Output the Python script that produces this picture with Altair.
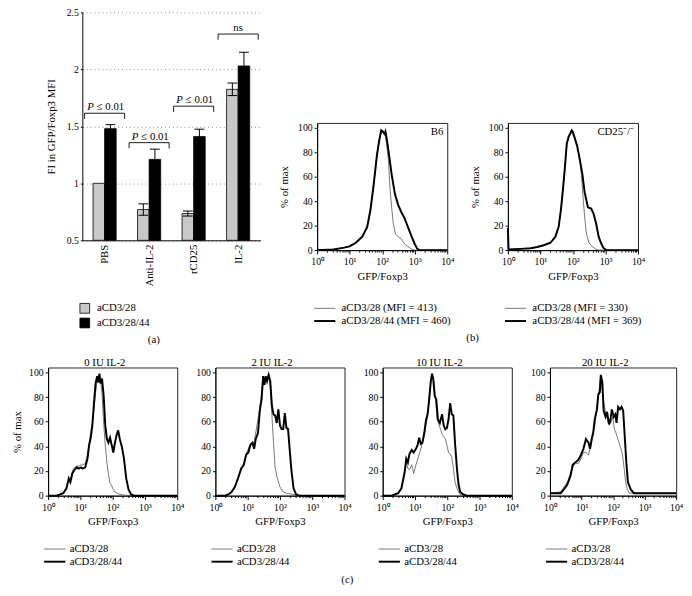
import altair as alt
import pandas as pd

FONT = "Liberation Serif"

# ---------------- Panel (a) data ----------------
groups = ["PBS", "Anti-IL-2", "rCD25", "IL-2"]
series_a = ["aCD3/28", "aCD3/28/44"]
mean_28 = [1.00, 0.77, 0.735, 1.825]
err_28 = [0.0, 0.05, 0.022, 0.055]
mean_44 = [1.48, 1.21, 1.41, 2.03]
err_44 = [0.035, 0.09, 0.065, 0.12]
bracket_top = [1.615, 1.357, 1.677, 2.31]
bracket_text = ["≤ 0.01", "≤ 0.01", "≤ 0.01", "ns"]
bracket_italic = ["P", "P", "P", ""]

# ---------------- Panel (b) data (x as log10 of GFP/Foxp3, y as % of max) ----------------
mfi_b6 = [413, 460]
mfi_cd25 = [330, 369]
b6_28_x = [0, 0.5, 0.83, 1.0, 1.19, 1.39, 1.54, 1.64, 1.74, 1.84, 1.91, 1.99, 2.04, 2.09, 2.14, 2.19, 2.24, 2.29, 2.34, 2.41, 2.49, 2.59, 2.69, 2.79, 2.89, 3.0, 4.0]
b6_28_y = [0, 0.5, 2, 3.5, 6.5, 12, 20, 34, 55, 78, 90, 97, 96, 94, 86, 73, 51, 35, 22, 13, 11, 9, 5, 3, 1, 0, 0]
b6_44_x = [0, 0.5, 0.83, 1.0, 1.19, 1.39, 1.54, 1.64, 1.74, 1.84, 1.91, 1.97, 2.02, 2.07, 2.10, 2.14, 2.21, 2.29, 2.39, 2.49, 2.59, 2.69, 2.79, 2.89, 3.0, 3.08, 3.15, 4.0]
b6_44_y = [0, 0.5, 2, 3, 6, 11, 19, 33, 54, 78, 90, 98, 97, 95, 97, 91, 78, 62, 46, 37, 31, 26, 19, 12, 5, 1, 0, 0]
cd_28_x = [0, 0.02, 0.4, 0.7, 0.9, 1.1, 1.31, 1.46, 1.56, 1.63, 1.69, 1.75, 1.81, 1.87, 1.93, 1.98, 2.06, 2.13, 2.21, 2.26, 2.31, 2.36, 2.41, 2.49, 2.59, 2.69, 2.8, 4.0]
cd_28_y = [18, 0.5, 1, 1.5, 2.5, 4, 6, 11, 19, 33, 49, 67, 87, 92, 96, 95, 93, 86, 75, 62, 43, 27, 14, 6, 3, 1, 0, 0]
cd_44_x = [0, 0.02, 0.4, 0.7, 0.9, 1.1, 1.31, 1.46, 1.56, 1.63, 1.69, 1.75, 1.81, 1.87, 1.91, 1.96, 1.99, 2.06, 2.13, 2.21, 2.29, 2.36, 2.46, 2.56, 2.63, 2.71, 2.79, 2.86, 2.93, 3.02, 4.0]
cd_44_y = [18, 0.5, 1, 1.5, 2.5, 4, 6, 11, 19, 33, 49, 67, 87, 93, 95, 98, 97, 91, 85, 74, 62, 47, 35, 34, 30, 22, 11, 6, 2, 0, 0]

# ---------------- Panel (c) data ----------------
c_titles = ["0 IU IL-2", "2 IU IL-2", "10 IU IL-2", "20 IU IL-2"]
c0_28_x = [0, 0.27, 0.37, 0.47, 0.57, 0.64, 0.69, 0.75, 0.82, 0.89, 0.95, 1.02, 1.07, 1.15, 1.22, 1.32, 1.40, 1.47, 1.52, 1.57, 1.62, 1.67, 1.72, 1.77, 1.82, 1.87, 1.92, 1.97, 2.02, 2.07, 2.17, 2.37, 2.57, 4.0]
c0_28_y = [0, 0, 1, 2.5, 7, 13, 12, 20, 23, 24, 24, 25, 25, 26, 33, 51, 65, 83, 95, 98, 95, 83, 59, 41, 27, 17, 10, 8, 5, 3, 1.5, 0.3, 0, 0]
c0_44_x = [0, 0.27, 0.37, 0.47, 0.57, 0.64, 0.69, 0.75, 0.82, 0.89, 0.95, 1.02, 1.07, 1.15, 1.22, 1.27, 1.32, 1.37, 1.42, 1.47, 1.52, 1.55, 1.59, 1.62, 1.67, 1.72, 1.77, 1.82, 1.87, 1.92, 1.97, 2.02, 2.07, 2.12, 2.17, 2.22, 2.29, 2.35, 2.42, 2.49, 2.57, 2.67, 4.0]
c0_44_y = [0, 0, 1, 2, 6, 14, 11, 18, 21, 23, 22, 23, 22, 23, 30, 41, 47, 57, 75, 91, 97, 92, 99, 91, 95, 81, 57, 46, 43, 47, 41, 35, 43, 49, 53, 46, 39, 30, 14, 5, 1, 0, 0]
c2_28_x = [0, 0.3, 0.40, 0.50, 0.60, 0.70, 0.80, 0.88, 0.95, 1.02, 1.10, 1.20, 1.30, 1.40, 1.48, 1.55, 1.65, 1.70, 1.75, 1.80, 1.85, 1.92, 2.0, 2.10, 2.20, 2.40, 2.60, 4.0]
c2_28_y = [0, 0, 1, 3, 7, 14, 22, 26, 34, 38, 43, 43, 59, 76, 97, 94, 97, 88, 65, 43, 23, 14, 7, 3, 2, 1, 0, 0]
c2_44_x = [0, 0.3, 0.40, 0.50, 0.60, 0.70, 0.80, 0.88, 0.95, 1.02, 1.08, 1.15, 1.20, 1.25, 1.32, 1.38, 1.43, 1.48, 1.52, 1.56, 1.60, 1.65, 1.70, 1.75, 1.80, 1.85, 1.90, 1.95, 2.0, 2.05, 2.10, 2.15, 2.20, 2.25, 2.30, 2.35, 2.42, 2.50, 2.60, 4.0]
c2_44_y = [0, 0, 1, 3, 7, 14, 22, 25, 33, 35, 41, 43, 38, 46, 51, 70, 78, 97, 90, 97, 93, 98, 93, 73, 66, 65, 59, 70, 57, 54, 54, 67, 55, 54, 38, 22, 6, 1, 0, 0]
c10_28_x = [0, 0.28, 0.38, 0.48, 0.58, 0.68, 0.73, 0.78, 0.83, 0.90, 0.96, 1.03, 1.10, 1.18, 1.29, 1.39, 1.49, 1.53, 1.59, 1.69, 1.79, 1.84, 1.94, 1.99, 2.04, 2.09, 2.14, 2.19, 2.24, 2.30, 2.35, 2.40, 2.50, 4.0]
c10_28_y = [0, 0, 1, 2, 6, 18, 27, 22, 21, 25, 18, 25, 31, 38, 49, 65, 92, 98, 92, 62, 54, 50, 46, 41, 35, 34, 31, 22, 11, 6, 3, 1, 0, 0]
c10_44_x = [0, 0.28, 0.38, 0.48, 0.58, 0.68, 0.73, 0.78, 0.83, 0.90, 0.96, 1.03, 1.08, 1.13, 1.18, 1.23, 1.29, 1.34, 1.39, 1.44, 1.49, 1.53, 1.57, 1.61, 1.66, 1.71, 1.77, 1.84, 1.89, 1.94, 1.99, 2.04, 2.09, 2.14, 2.19, 2.24, 2.30, 2.35, 2.40, 2.50, 2.60, 4.0]
c10_44_y = [0, 0, 1, 2, 6, 19, 30, 27, 34, 37, 35, 38, 41, 47, 42, 43, 51, 61, 66, 78, 93, 99, 94, 81, 78, 62, 59, 66, 57, 54, 55, 62, 75, 66, 65, 43, 22, 9, 3, 1, 0, 0]
c20_28_x = [0, 0.34, 0.44, 0.55, 0.65, 0.72, 0.80, 0.90, 0.98, 1.06, 1.14, 1.22, 1.32, 1.42, 1.49, 1.55, 1.61, 1.66, 1.71, 1.76, 1.83, 1.88, 1.93, 1.99, 2.04, 2.09, 2.14, 2.19, 2.25, 2.30, 2.35, 2.40, 2.45, 2.52, 4.0]
c20_28_y = [2, 3, 7, 11, 18, 23, 26, 26, 30, 35, 35, 33, 43, 57, 73, 84, 97, 84, 75, 68, 61, 57, 59, 64, 54, 51, 47, 43, 38, 33, 22, 11, 5, 2, 2]
c20_44_x = [0, 0.34, 0.44, 0.55, 0.65, 0.72, 0.80, 0.90, 0.98, 1.06, 1.14, 1.22, 1.27, 1.32, 1.37, 1.42, 1.49, 1.53, 1.58, 1.61, 1.66, 1.70, 1.76, 1.81, 1.87, 1.92, 1.96, 2.02, 2.07, 2.11, 2.16, 2.22, 2.27, 2.32, 2.37, 2.42, 2.47, 2.56, 2.66, 4.0]
c20_44_y = [2, 2, 5, 9, 16, 25, 27, 29, 33, 38, 46, 43, 38, 46, 51, 62, 70, 82, 84, 98, 92, 69, 64, 68, 58, 62, 70, 64, 66, 59, 72, 70, 72, 69, 48, 27, 11, 5, 2, 2]

# ---------------- layout / style constants ----------------
BAR_W = 0.26
CAP_HALF = 0.11
BR_HALF = 0.45
BR_LEG = 0.05
THIN_COLOR = "#555555"


def spacer(w, h):
    return alt.Chart(pd.DataFrame({"v": [0]})).mark_point(opacity=0, size=0).encode(
        x=alt.value(0), y=alt.value(0)
    ).properties(width=w, height=h, view=alt.ViewBackground(stroke="transparent"))


# ---------------- Panel (a) ----------------
bar_rows, err_rows = [], []
for i, g in enumerate(groups):
    for s, (means, errs) in enumerate([(mean_28, err_28), (mean_44, err_44)]):
        x1 = i - BAR_W if s == 0 else i
        x2 = i if s == 0 else i + BAR_W
        xc = (x1 + x2) / 2
        bar_rows.append({"x1": x1, "x2": x2, "mean": means[i], "series": series_a[s]})
        if errs[i] > 0:
            err_rows.append({"xc": xc, "cl": xc - CAP_HALF, "cr": xc + CAP_HALF,
                             "lo": means[i] - errs[i], "hi": means[i] + errs[i]})
bars_df = pd.DataFrame(bar_rows)
err_df = pd.DataFrame(err_rows)
br_df = pd.DataFrame({
    "pos": list(range(len(groups))),
    "top": bracket_top,
    "txt": bracket_text,
    "ital": bracket_italic,
})
br_df["left"] = br_df["pos"] - BR_HALF
br_df["right"] = br_df["pos"] + BR_HALF
br_df["bot"] = br_df["top"] - BR_LEG

label_expr_a = "[" + ",".join("'" + g + "'" for g in groups) + "][datum.value]"
xs_a = alt.Scale(domain=[-0.5, 3.5], nice=False, zero=False)
ys_a = alt.Scale(domain=[0.5, 2.5], nice=False, zero=False)

bars = alt.Chart(bars_df).mark_bar(stroke="black", strokeWidth=0.8).encode(
    x=alt.X("x1:Q", scale=xs_a, title=None,
            axis=alt.Axis(values=[0, 1, 2, 3], labelExpr=label_expr_a, labelAngle=-90,
                          ticks=False, grid=False, labelFlush=False, labelPadding=4,
                          labelFontSize=11)),
    x2="x2:Q",
    y=alt.Y("mean:Q", scale=ys_a, title="FI in GFP/Foxp3 MFI",
            axis=alt.Axis(values=[0.5, 1, 1.5, 2, 2.5], format="~g", grid=True,
                          gridDash=[1, 3], gridColor="#888888", gridWidth=1,
                          tickSize=2, labelPadding=2, titlePadding=10, titleFontWeight="normal")),
    y2=alt.datum(0.5),
    fill=alt.Fill("series:N", scale=alt.Scale(domain=series_a, range=["#c8c8c8", "#000000"]),
                  legend=alt.Legend(orient="none", legendX=-3, legendY=297, direction="vertical",
                                    title=None, symbolType="square", symbolSize=100,
                                    symbolStrokeColor="black", symbolStrokeWidth=0.8,
                                    labelFontSize=11, labelOffset=7, rowPadding=0)),
)
err_v = alt.Chart(err_df).mark_rule(color="black", strokeWidth=1).encode(
    x="xc:Q", y="lo:Q", y2="hi:Q")
cap_hi = alt.Chart(err_df).mark_rule(color="black", strokeWidth=1).encode(
    x="cl:Q", x2="cr:Q", y="hi:Q")
cap_lo = alt.Chart(err_df).mark_rule(color="black", strokeWidth=1).encode(
    x="cl:Q", x2="cr:Q", y="lo:Q")
br_h = alt.Chart(br_df).mark_rule(color="black", strokeWidth=0.9).encode(
    x="left:Q", x2="right:Q", y="top:Q")
br_l = alt.Chart(br_df).mark_rule(color="black", strokeWidth=0.9).encode(
    x="left:Q", y="bot:Q", y2="top:Q")
br_r = alt.Chart(br_df).mark_rule(color="black", strokeWidth=0.9).encode(
    x="right:Q", y="bot:Q", y2="top:Q")
p_df = br_df[br_df["ital"] != ""]
ns_df = br_df[br_df["ital"] == ""]
p_txt = alt.Chart(p_df).mark_text(align="right", baseline="bottom", dx=-11, dy=-1,
                                  fontStyle="italic", fontSize=11).encode(
    x="pos:Q", y="top:Q", text="ital:N")
p_val = alt.Chart(p_df).mark_text(align="left", baseline="bottom", dx=-8, dy=-1,
                                  fontSize=11).encode(
    x="pos:Q", y="top:Q", text="txt:N")
ns_txt = alt.Chart(ns_df).mark_text(align="center", baseline="bottom", dy=-1,
                                    fontSize=11).encode(
    x="pos:Q", y="top:Q", text="txt:N")

a_chart = alt.layer(bars, err_v, cap_hi, cap_lo, br_h, br_l, br_r, p_txt, p_val, ns_txt).properties(
    width=182, height=233, view=alt.ViewBackground(stroke="transparent"),
    title=alt.TitleParams("(a)", orient="bottom", anchor="middle", offset=4, dx=-18, fontSize=11),
)

# ---------------- histogram builder ----------------
x_vals = [m * 10 ** d for d in range(4) for m in range(1, 10)] + [10000]
MAJOR = "abs(log(datum.value)/LN10 - round(log(datum.value)/LN10)) < 0.001"
X_LABELS = "(" + MAJOR + ") ? '10' + ['⁰','¹','²','³','⁴'][round(log(datum.value)/LN10)] : ''"
y_vals = [0, 20, 40, 60, 80, 100]


def hist(curves, labels, width, height, legend_x, legend_y, label_offset,
         ytitle=True, title=None, note=None, ytitle_pad=8):
    rows = []
    for lab, (xs, ys) in zip(labels, curves):
        for k, (a, b) in enumerate(zip(xs, ys)):
            rows.append({"gfp": 10 ** a, "pct": b, "series": lab, "k": k})
    df = pd.DataFrame(rows)
    leg = alt.Legend(orient="none", legendX=legend_x, legendY=legend_y, direction="vertical",
                     title=None, symbolType="M-2.4,0H2.4", symbolSize=81,
                     labelFontSize=11, labelOffset=label_offset, rowPadding=1)
    xaxis = alt.Axis(values=x_vals, labelExpr=X_LABELS, labelOverlap=False, labelFlush=False,
                     tickSize={"condition": {"test": MAJOR, "value": 4}, "value": 2},
                     grid=False, labelPadding=3, titlePadding=4, labelFontSize=10,
                     titleFontWeight="normal")
    yaxis = alt.Axis(values=y_vals, tickSize=3, labelOverlap=False, labelFlush=False,
                     grid=False, labelPadding=2, titlePadding=ytitle_pad, labelFontSize=10,
                     titleFontWeight="normal")
    ytitle_txt = "% of max" if ytitle else None
    lines = alt.Chart(df).mark_line(interpolate="linear").encode(
        x=alt.X("gfp:Q", scale=alt.Scale(type="log", domain=[1, 10000], nice=False),
                axis=xaxis, title="GFP/Foxp3"),
        y=alt.Y("pct:Q", scale=alt.Scale(domain=[0, 104], nice=False, zero=True),
                axis=yaxis, title=ytitle_txt),
        color=alt.Color("series:N", scale=alt.Scale(domain=labels, range=[THIN_COLOR, "#000000"]),
                        legend=leg),
        strokeWidth=alt.StrokeWidth("series:N", scale=alt.Scale(domain=labels, range=[0.8, 2.0]),
                                    legend=leg),
        order="k:Q",
    )
    layers = [lines]
    if note is not None:
        layers.append(
            alt.Chart(pd.DataFrame({"t": [note]})).mark_text(
                align="right", baseline="middle", fontSize=11, color="black").encode(
                x=alt.value(width - 4), y=alt.value(9), text="t:N"))
    ch = alt.layer(*layers).properties(width=width, height=height)
    if title is not None:
        ch = ch.properties(title=alt.TitleParams(title, fontSize=11, offset=0, frame="group", dx=-8))
    return ch


b_labels1 = [f"{series_a[0]} (MFI = {mfi_b6[0]})", f"{series_a[1]} (MFI = {mfi_b6[1]})"]
b_labels2 = [f"{series_a[0]} (MFI = {mfi_cd25[0]})", f"{series_a[1]} (MFI = {mfi_cd25[1]})"]
b1 = hist([(b6_28_x, b6_28_y), (b6_44_x, b6_44_y)], b_labels1, 133, 130, 2.3, 184, 11.7, note="B6")
b2 = hist([(cd_28_x, cd_28_y), (cd_44_x, cd_44_y)], b_labels2, 133, 130, 2.3, 184, 11.7, note="CD25⁻/⁻")

c_curves = [
    [(c0_28_x, c0_28_y), (c0_44_x, c0_44_y)],
    [(c2_28_x, c2_28_y), (c2_44_x, c2_44_y)],
    [(c10_28_x, c10_28_y), (c10_44_x, c10_44_y)],
    [(c20_28_x, c20_28_y), (c20_44_x, c20_44_y)],
]
c_widths = [132, 132, 132, 129]
c_charts = [
    hist(c_curves[i], series_a, c_widths[i], 131, 1.3, 180, 9.7, ytitle=(i == 0),
         title=c_titles[i], ytitle_pad=6)
    for i in range(4)
]

RES = dict(color="independent", strokeWidth="independent", fill="independent")

b_pair = alt.hconcat(b1, b2, spacing=14).resolve_scale(**RES).properties(
    title=alt.TitleParams("(b)", orient="bottom", anchor="middle", dx=11, offset=5, fontSize=11))
b_block = alt.vconcat(spacer(1, 111), b_pair, spacing=0).resolve_scale(**RES)

a_and_b = alt.hconcat(a_chart, b_block, spacing=17).resolve_scale(**RES)
top_row = alt.hconcat(spacer(36, 1), a_and_b, spacing=0).resolve_scale(**RES)
c_group = alt.hconcat(*c_charts, spacing=10).resolve_scale(**RES).properties(
    title=alt.TitleParams("(c)", orient="bottom", anchor="middle", offset=7, fontSize=11))
bottom_row = alt.hconcat(spacer(1, 1), c_group, spacing=0).resolve_scale(**RES)

chart = alt.vconcat(top_row, bottom_row, spacing=10).resolve_scale(**RES).properties(
    padding={"left": 0, "top": -8, "right": 0, "bottom": 0}
).configure(font=FONT).configure_axis(
    labelFont=FONT, titleFont=FONT, labelColor="black", titleColor="black",
    domainColor="black", tickColor="black", titleFontWeight="normal", titleFontSize=11,
    labelFontSize=10, domainWidth=1, tickWidth=1,
).configure_legend(labelFont=FONT, labelColor="black").configure_title(
    font=FONT, fontWeight="normal", fontSize=11, color="black"
).configure_view(stroke="#222222", strokeWidth=1).configure_text(font=FONT)

chart.save("out.html", embed_options={"renderer": "svg", "actions": False})
